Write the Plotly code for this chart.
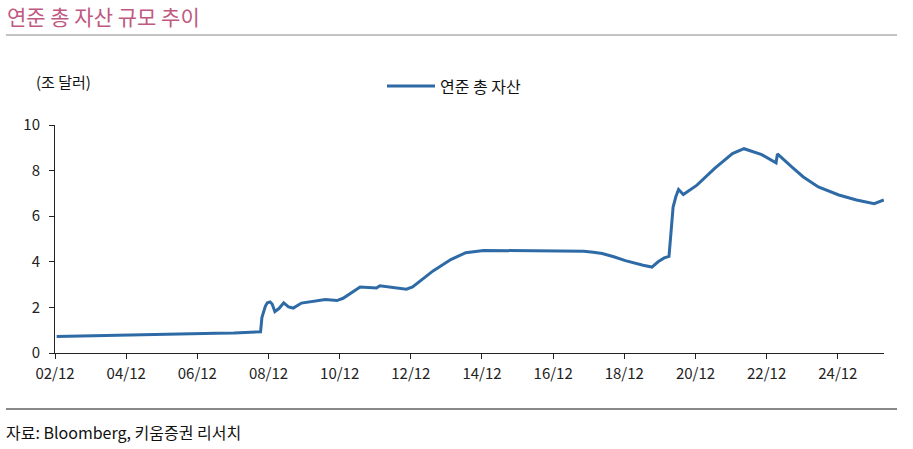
import plotly.graph_objects as go

# Fed total assets (trillion USD)
dates = [
    "2002-12-18", "2003-06-18", "2003-12-17", "2004-06-16", "2004-12-15",
    "2005-06-15", "2005-12-14", "2006-06-14", "2006-12-13", "2007-06-13",
    "2007-12-12", "2008-06-11", "2008-09-10", "2008-09-24", "2008-10-08",
    "2008-10-29", "2008-11-19", "2008-12-17", "2009-01-07", "2009-02-04",
    "2009-03-18", "2009-05-06", "2009-06-24", "2009-08-12", "2009-11-04",
    "2010-04-07", "2010-07-07", "2010-11-03", "2011-01-05", "2011-06-29",
    "2011-12-14", "2012-01-18", "2012-06-13", "2012-10-17", "2012-12-19",
    "2013-03-20", "2013-07-17", "2014-01-15", "2014-06-18", "2014-12-17",
    "2015-06-17", "2015-12-16", "2016-06-15", "2016-12-14", "2017-06-14",
    "2017-10-11", "2018-01-17", "2018-04-18", "2018-08-15", "2018-12-12",
    "2019-06-12", "2019-09-11", "2019-11-13", "2020-01-15", "2020-03-04",
    "2020-03-25", "2020-04-15", "2020-05-13", "2020-06-10", "2020-07-29",
    "2020-12-16", "2021-06-16", "2021-12-15", "2022-04-13", "2022-10-12",
    "2023-03-08", "2023-03-22", "2023-08-16", "2023-12-13", "2024-05-15",
    "2024-12-11", "2025-06-11", "2025-11-12", "2025-12-10", "2026-03-18",
]
total_assets = [
    0.72, 0.74, 0.75, 0.77, 0.79,
    0.80, 0.82, 0.84, 0.85, 0.87,
    0.88, 0.90, 0.93, 1.55, 1.80,
    2.05, 2.20, 2.24, 2.15, 1.82,
    1.95, 2.20, 2.02, 1.97, 2.19,
    2.30, 2.35, 2.30, 2.40, 2.89,
    2.85, 2.95, 2.86, 2.80, 2.90,
    3.20, 3.60, 4.10, 4.40, 4.50,
    4.49, 4.48, 4.48, 4.47, 4.47,
    4.46, 4.42, 4.36, 4.22, 4.05,
    3.85, 3.77, 4.00, 4.17, 4.24,
    5.30, 6.40, 6.85, 7.17, 6.95,
    7.36, 8.10, 8.75, 8.96, 8.70,
    8.34, 8.73, 8.16, 7.72, 7.28,
    6.93, 6.71, 6.58, 6.55, 6.71,
]

tick_dates = ["2002-12-01", "2004-12-01", "2006-12-01", "2008-12-01", "2010-12-01",
              "2012-12-01", "2014-12-01", "2016-12-01", "2018-12-01", "2020-12-01",
              "2022-12-01", "2024-12-01"]
tick_labels = ["02/12", "04/12", "06/12", "08/12", "10/12", "12/12",
               "14/12", "16/12", "18/12", "20/12", "22/12", "24/12"]

FONT = "Noto Sans CJK KR"
LINE_COLOR = "#2E6BA6"
W, H = 913, 449
L, R, T, B = 55, 884, 125, 353  # plot area in pixels


def px(x):
    return (x - L) / (R - L)


def py(y):
    return (B - y) / (B - T)


fig = go.Figure()
fig.add_trace(go.Scatter(
    x=dates, y=total_assets, mode="lines", name="연준 총 자산",
    line=dict(color=LINE_COLOR, width=3), showlegend=False,
))

fig.update_layout(
    width=W, height=H,
    margin=dict(l=L, r=W - R, t=T, b=H - B),
    paper_bgcolor="white", plot_bgcolor="white",
    font=dict(family=FONT, size=13, color="#222222"),
    xaxis=dict(
        type="date", range=["2002-12-01", "2026-03-20"],
        tickvals=tick_dates, ticktext=tick_labels,
        showgrid=False, zeroline=False,
        showline=True, linecolor="#222222", linewidth=1,
        ticks="outside", ticklen=5, tickcolor="#222222",
        tickfont=dict(size=15), ticklabelstandoff=2,
    ),
    yaxis=dict(
        range=[0, 10], dtick=2, showgrid=False, zeroline=False,
        showline=True, linecolor="#222222", linewidth=1,
        ticks="outside", ticklen=5, tickcolor="#222222",
        tickfont=dict(size=15), ticklabelstandoff=6,
    ),
    shapes=[
        dict(type="line", xref="paper", yref="paper", x0=px(6), x1=px(897),
             y0=py(35), y1=py(35), line=dict(color="#888888", width=1)),
        dict(type="line", xref="paper", yref="paper", x0=px(6), x1=px(897),
             y0=py(409), y1=py(409), line=dict(color="#888888", width=2)),
        # legend key
        dict(type="line", xref="paper", yref="paper", x0=px(387), x1=px(435),
             y0=py(86), y1=py(86), line=dict(color=LINE_COLOR, width=3)),
    ],
    annotations=[
        dict(text="연준 총 자산 규모 추이", xref="paper", yref="paper",
             x=px(5), y=py(16), xanchor="left", yanchor="middle", showarrow=False,
             font=dict(size=21, color="#C0587F")),
        dict(text="(조 달러)", xref="paper", yref="paper",
             x=px(34), y=py(81), xanchor="left", yanchor="middle", showarrow=False,
             font=dict(size=15, color="#111111")),
        dict(text="연준 총 자산", xref="paper", yref="paper",
             x=px(438), y=py(86), xanchor="left", yanchor="middle", showarrow=False,
             font=dict(size=16, color="#111111")),
        dict(text="자료: Bloomberg, 키움증권 리서치", xref="paper", yref="paper",
             x=px(4), y=py(432), xanchor="left", yanchor="middle", showarrow=False,
             font=dict(size=16, color="#111111")),
    ],
)

# drop the default page margin so the figure sits at the window's corner
fig.write_html("out.html", config={"displayModeBar": False},
               post_script="document.body.style.margin = '0';")
